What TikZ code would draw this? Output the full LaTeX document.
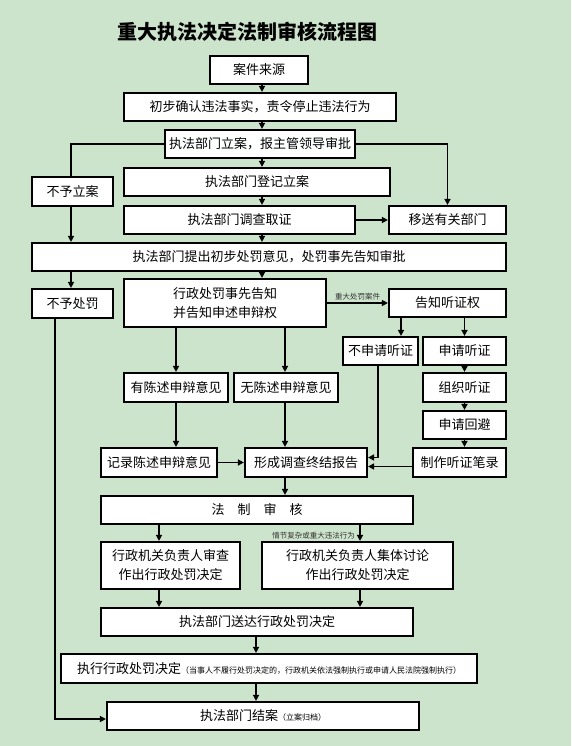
\documentclass[tikz,border=0pt]{standalone}
\usepackage{fontspec}
\setmainfont{Noto Sans CJK SC}
\usetikzlibrary{arrows.meta,calc}
\definecolor{bg}{RGB}{205,228,204}
\tikzset{
  bx/.style={draw=black, line width=2.2pt, fill=white, inner sep=0pt, align=center,
    font=\fontsize{13}{19}\selectfont},
  arr/.style={line width=1.6pt, -{Triangle[length=6pt,width=6pt]}},
  ln/.style={line width=1.6pt},
  lbl/.style={font=\fontsize{7.5}{9}\selectfont, inner sep=1pt, text=black!80},
  titlestyle/.style={font=\fontsize{20}{24}\selectfont\bfseries, inner sep=0pt}
}
\newcommand\mkbox[6]{\node[bx, minimum width={#4-#2}, minimum height={#5-#3}] (#1) at ({(#2+#4)/2},{(#3+#5)/2}) {#6};}
\newcommand\smalltxt[1]{{\fontsize{8}{10}\selectfont #1}}
\begin{document}
\begin{tikzpicture}[x=1pt,y=-1pt]
\fill[bg] (0,0) rectangle (571,746);
\useasboundingbox (0,0) rectangle (571,746);

\node[titlestyle] (title) at (247,32) {重大执法决定法制审核流程图};

\mkbox{src}{210}{56}{308}{84}{案件来源}
\mkbox{confirm}{124}{93}{396}{121}{初步确认违法事实，责令停止违法行为}
\mkbox{lian}{165}{130}{355}{158}{执法部门立案，报主管领导审批}
\mkbox{dengji}{124}{168}{390}{196}{执法部门登记立案}
\mkbox{buyulian}{32}{177}{113}{206}{不予立案}
\mkbox{diaocha}{124}{206}{355}{234}{执法部门调查取证}
\mkbox{yisong}{389}{206}{506}{234}{移送有关部门}
\mkbox{tichu}{32}{243}{506}{271}{执法部门提出初步处罚意见，处罚事先告知审批}
\mkbox{buyufa}{32}{289}{113}{318}{不予处罚}
\mkbox{gaozhi}{124}{279}{326}{327}{行政处罚事先告知\\并告知申述申辩权}
\mkbox{tingzheng}{389}{289}{506}{317}{告知听证权}
\mkbox{bushen}{343}{337}{418}{365}{不申请听证}
\mkbox{shenqing}{423}{337}{506}{365}{申请听证}
\mkbox{youchen}{124}{373}{228}{402}{有陈述申辩意见}
\mkbox{wuchen}{234}{373}{338}{402}{无陈述申辩意见}
\mkbox{zuzhi}{423}{373}{506}{402}{组织听证}
\mkbox{huibi}{423}{411}{506}{439}{申请回避}
\mkbox{jilu}{101}{448}{217}{477}{记录陈述申辩意见}
\mkbox{xingcheng}{245}{448}{367}{477}{形成调查终结报告}
\mkbox{bilu}{413}{448}{506}{477}{制作听证笔录}
\mkbox{fazhi}{101}{496}{413}{524}{法\hspace{1em}制\hspace{1em}审\hspace{1em}核}
\mkbox{shencha}{101}{542}{240}{589}{行政机关负责人审查\\作出行政处罚决定}
\mkbox{taolun}{262}{542}{453}{589}{行政机关负责人集体讨论\\作出行政处罚决定}
\mkbox{songda}{101}{608}{413}{636}{执法部门送达行政处罚决定}
\mkbox{zhixing}{61}{654}{477}{683}{执行行政处罚决定\smalltxt{（当事人不履行处罚决定的，行政机关依法强制执行或申请人民法院强制执行）}}
\mkbox{jiean}{107}{702}{419}{730}{执法部门结案\smalltxt{（立案归档）}}

% main spine
\coordinate (sx) at (262,0);
\draw[arr] (sx |- src.south) -- (sx |- confirm.north);
\draw[arr] (sx |- confirm.south) -- (sx |- lian.north);
\draw[arr] (sx |- lian.south) -- (sx |- dengji.north);
\draw[arr] (sx |- dengji.south) -- (sx |- diaocha.north);
\draw[arr] (sx |- diaocha.south) -- (sx |- tichu.north);
\draw[arr] (sx |- tichu.south) -- (sx |- gaozhi.north);

% side branches at top
\coordinate (l1) at (71,0);
\draw[ln] (lian.west) -| (l1 |- buyulian.north);
\draw[arr] (lian.east) -| (yisong.north);
\draw[arr] (diaocha.east) -- (yisong.west);
\draw[arr] (l1 |- buyulian.south) -- (l1 |- tichu.north);
\draw[arr] (l1 |- tichu.south) -- (l1 |- buyufa.north);

% hearing branch
\draw[arr] (gaozhi.east |- tingzheng.west) -- node[lbl, above=1pt] (lbla) {重大处罚案件} (tingzheng.west);
\coordinate (t1) at (401,0);
\draw[arr] (t1 |- tingzheng.south) -- (t1 |- bushen.north);
\draw[arr] (shenqing.north |- tingzheng.south) -- (shenqing.north);
\draw[arr] (shenqing.south) -- (zuzhi.north);
\draw[arr] (zuzhi.south) -- (huibi.north);
\draw[arr] (huibi.south) -- (huibi.south |- bilu.north);

% statement branches
\draw[arr] (youchen.north |- gaozhi.south) -- (youchen.north);
\coordinate (w1) at (285,0);
\draw[arr] (w1 |- gaozhi.south) -- (w1 |- wuchen.north);
\draw[arr] (youchen.south) -- (youchen.south |- jilu.north);
\draw[arr] (w1 |- wuchen.south) -- (w1 |- xingcheng.north);
\draw[arr] (jilu.east) -- (xingcheng.west |- jilu.east);
\coordinate (b1) at (378,0);
\draw[arr] (b1 |- bushen.south) |- ([yshift=5pt]xingcheng.east);
\draw[arr] ([yshift=-4pt]bilu.west) -- ([yshift=-4pt]xingcheng.east);
\draw[arr] (w1 |- xingcheng.south) -- (w1 |- fazhi.north);

% review
\coordinate (f1) at (159,0);
\coordinate (f2) at (360,0);
\draw[arr] (f1 |- fazhi.south) -- (f1 |- shencha.north);
\draw[arr] (f2 |- fazhi.south) -- (f2 |- taolun.north);
\node[lbl, anchor=east] (lblb) at (356,536) {情节复杂或重大违法行为};
\draw[arr] (f1 |- shencha.south) -- (f1 |- songda.north);
\draw[arr] (f2 |- taolun.south) -- (f2 |- songda.north);
\coordinate (g1) at (256,0);
\draw[arr] (g1 |- songda.south) -- (g1 |- zhixing.north);
\draw[arr] (g1 |- zhixing.south) -- (g1 |- jiean.north);

% no penalty to close
\coordinate (n1) at (55,0);
\draw[arr] (n1 |- buyufa.south) |- ([yshift=-3pt]jiean.west);
\end{tikzpicture}
\end{document}
